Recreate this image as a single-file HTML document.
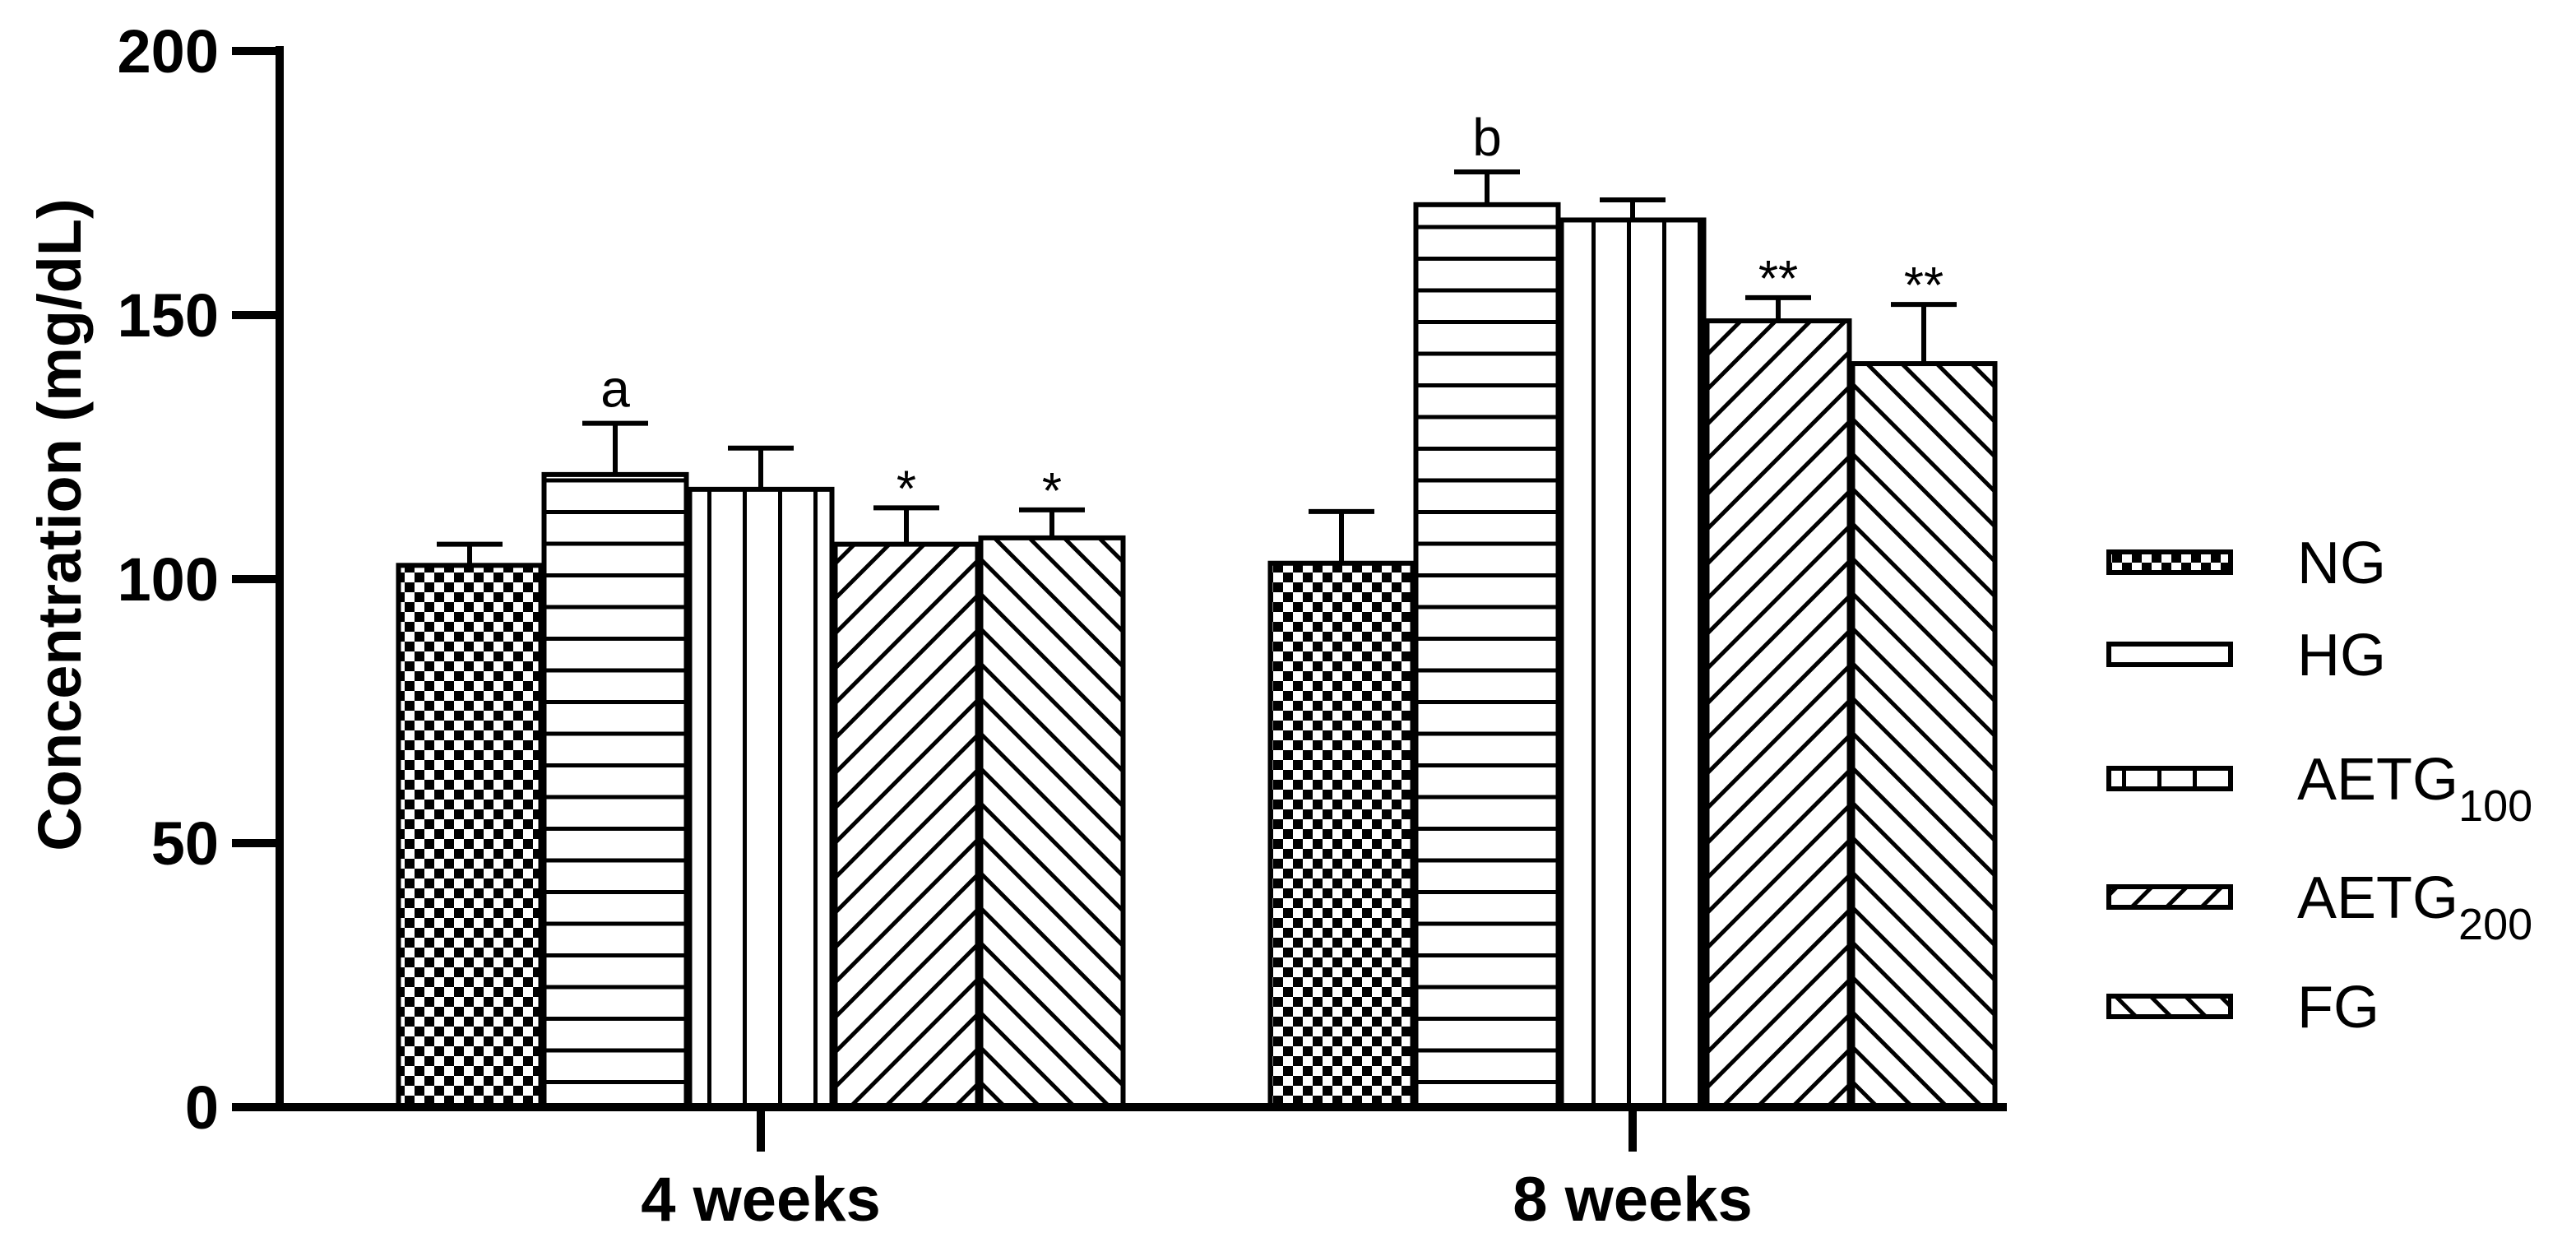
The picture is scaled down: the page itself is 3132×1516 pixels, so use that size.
<!DOCTYPE html>
<html><head><meta charset="utf-8"><style>
html,body{margin:0;padding:0;background:#fff;}
svg{display:block;font-family:"Liberation Sans",Arial,sans-serif;}
</style></head><body>
<svg id="chart" width="3132" height="1516" viewBox="0 0 3132 1516" xmlns="http://www.w3.org/2000/svg">
<defs>
<pattern id="p-check" patternUnits="userSpaceOnUse" width="24" height="24"><rect width="24" height="24" fill="#fff"/><rect width="12" height="12" fill="#000"/><rect x="12" y="12" width="12" height="12" fill="#000"/></pattern>
<pattern id="p-horiz" patternUnits="userSpaceOnUse" width="40" height="38.5" y="4"><rect width="40" height="38.5" fill="#fff"/><rect y="0" width="40" height="5" fill="#000"/></pattern>
<pattern id="p-vert" patternUnits="userSpaceOnUse" width="43" height="40"><rect width="43" height="40" fill="#fff"/><rect x="0" width="5" height="40" fill="#000"/></pattern>
<pattern id="p-diag1" patternUnits="userSpaceOnUse" width="30" height="30" patternTransform="rotate(45)"><rect width="30" height="30" fill="#fff"/><rect width="5" height="30" fill="#000"/></pattern>
<pattern id="p-diag2" patternUnits="userSpaceOnUse" width="30" height="30" patternTransform="rotate(-45)"><rect width="30" height="30" fill="#fff"/><rect width="5" height="30" fill="#000"/></pattern>
</defs>
<g id="plot"></g>
</svg>
<script>
const groups = ["4 weeks", "8 weeks"];
const series = ["NG", "HG", "AETG100", "AETG200", "FG"];
const valuesW4 = [102.6, 119.8, 117, 106.6, 107.8];
const errorsW4 = [4, 9.7, 7.8, 6.9, 5.3];
const valuesW8 = [103, 170.9, 168, 148.9, 140.8];
const errorsW8 = [9.8, 6.2, 3.8, 4.4, 11.2];
const annotW4 = ["", "a", "", "*", "*"];
const annotW8 = ["", "b", "", "**", "**"];
const yTicks = [0, 50, 100, 150, 200];

const NS = "http://www.w3.org/2000/svg";
const g = document.getElementById("plot");
const y0 = 1346, y200 = 62;
const yScale = v => y0 - (v / 200) * (y0 - y200);
const groupCenters = [925, 1985];
const barW = 173, step = 177;
const xBar = (gi, si) => groupCenters[gi] + (si - 2) * step - barW / 2;
const fills = ["url(#p-check)", "url(#p-horiz)", "url(#p-vert)", "url(#p-diag1)", "url(#p-diag2)"];

function mk(tag, attrs, parent) {
  const el = document.createElementNS(NS, tag);
  for (const k in attrs) el.setAttribute(k, attrs[k]);
  (parent || g).appendChild(el);
  return el;
}

[valuesW4, valuesW8].forEach((vals, gi) => {
  const errs = gi === 0 ? errorsW4 : errorsW8;
  const ann = gi === 0 ? annotW4 : annotW8;
  vals.forEach((v, si) => {
    const x = xBar(gi, si), cx = x + barW / 2;
    const top = yScale(v), etop = yScale(v + errs[si]);
    const eb = mk("path", {d: `M${cx} ${top} V${etop} M${cx - 40} ${etop} H${cx + 40}`, stroke: "#000", "stroke-width": 6, fill: "none"});
    
    
    const r = mk("rect", {x: x, y: top, width: barW, height: y0 - top, fill: fills[si], stroke: "#000", "stroke-width": 6});
    
    
    if (ann[si]) {
      const isStar = ann[si].indexOf("*") >= 0;
      const t = mk("text", {x: cx, y: isStar ? etop - 2 : etop - 20, "text-anchor": "middle", "font-size": isStar ? 62 : 64});
      t.textContent = ann[si];
      
      
    }
  });
});

const ya = mk("line", {x1: 340, y1: 56, x2: 340, y2: 1351, stroke: "#000", "stroke-width": 10});


const xa = mk("line", {x1: 335, y1: 1346, x2: 2440, y2: 1346, stroke: "#000", "stroke-width": 10});


yTicks.forEach(v => {
  const y = yScale(v);
  const tk = mk("line", {x1: 282, y1: y, x2: 340, y2: y, stroke: "#000", "stroke-width": 10});
  
  
  const t = mk("text", {x: 266, y: y + 26, "text-anchor": "end", "font-size": 74, "font-weight": "bold"});
  t.textContent = v;
  
  
});
groups.forEach((name, gi) => {
  const cx = groupCenters[gi];
  const tk = mk("line", {x1: cx, y1: 1346, x2: cx, y2: 1400, stroke: "#000", "stroke-width": 10});
  
  
  const t = mk("text", {x: cx, y: 1484, "text-anchor": "middle", "font-size": 76, "font-weight": "bold"});
  t.textContent = name;
  
  
});
const yt = mk("text", {x: 0, y: 0, transform: "translate(98,638) rotate(-90)", "text-anchor": "middle", "font-size": 74, "font-weight": "bold"});
yt.textContent = "Concentration (mg/dL)";



const legY = [683, 795, 946, 1090, 1223];
const legLabels = [["NG", ""], ["HG", ""], ["AETG", "100"], ["AETG", "200"], ["FG", ""]];
legY.forEach((cy, i) => {
  const sw = mk("rect", {x: 2564, y: cy - 12, width: 148, height: 25, fill: fills[i], stroke: "#000", "stroke-width": 6});
  
  
  const t = mk("text", {x: 2793, y: cy + 26, "font-size": 72});
  
  
  t.appendChild(document.createTextNode(legLabels[i][0]));
  if (legLabels[i][1]) {
    const s = mk("tspan", {dy: 26, "font-size": 54}, t);
    s.textContent = legLabels[i][1];
  }
});
</script>
</body></html>
